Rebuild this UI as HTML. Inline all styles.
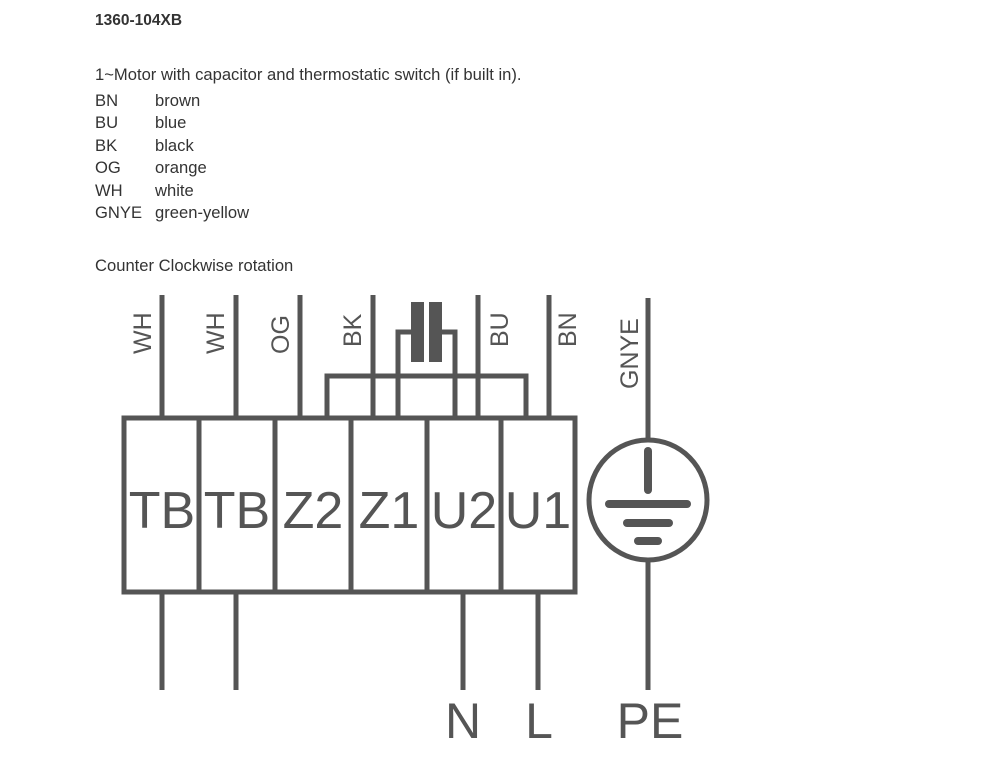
<!DOCTYPE html>
<html><head><meta charset="utf-8"><style>
html,body{margin:0;padding:0;background:#fff;}
body{width:1000px;height:757px;overflow:hidden;position:relative;font-family:"Liberation Sans",Arial,sans-serif;color:#333;}
.t{position:absolute;font-size:16.6px;line-height:16px;white-space:nowrap;}
</style></head><body>
<div class="t" style="left:95px;top:13px;font-weight:bold;font-size:15.5px;">1360-104XB</div>
<div class="t" style="left:95px;top:67px;">1~Motor with capacitor and thermostatic switch (if built in).</div>
<div class="t" style="left:95px;top:93px;">BN</div><div class="t" style="left:155px;top:93px;">brown</div>
<div class="t" style="left:95px;top:115px;">BU</div><div class="t" style="left:155px;top:115px;">blue</div>
<div class="t" style="left:95px;top:138px;">BK</div><div class="t" style="left:155px;top:138px;">black</div>
<div class="t" style="left:95px;top:160px;">OG</div><div class="t" style="left:155px;top:160px;">orange</div>
<div class="t" style="left:95px;top:183px;">WH</div><div class="t" style="left:155px;top:183px;">white</div>
<div class="t" style="left:95px;top:205px;">GNYE</div><div class="t" style="left:155px;top:205px;">green-yellow</div>
<div class="t" style="left:95px;top:258px;">Counter Clockwise rotation</div>
<svg width="1000" height="757" style="position:absolute;left:0;top:0" xmlns="http://www.w3.org/2000/svg">
<g stroke="#555" stroke-width="5" fill="none">
<rect x="124" y="418" width="451" height="174"/>
<line x1="199" y1="418" x2="199" y2="592"/>
<line x1="275" y1="418" x2="275" y2="592"/>
<line x1="351" y1="418" x2="351" y2="592"/>
<line x1="427" y1="418" x2="427" y2="592"/>
<line x1="501" y1="418" x2="501" y2="592"/>
<line x1="162" y1="295" x2="162" y2="418"/>
<line x1="236" y1="295" x2="236" y2="418"/>
<line x1="300" y1="295" x2="300" y2="418"/>
<line x1="373" y1="295" x2="373" y2="418"/>
<line x1="478" y1="295" x2="478" y2="418"/>
<line x1="549" y1="295" x2="549" y2="418"/>
<polyline points="327,418 327,376 526,376 526,418"/>
<polyline points="398,418 398,332 415,332"/>
<polyline points="455,418 455,332 438,332"/>
<line x1="162" y1="592" x2="162" y2="690"/>
<line x1="236" y1="592" x2="236" y2="690"/>
<line x1="463" y1="592" x2="463" y2="690"/>
<line x1="538" y1="592" x2="538" y2="690"/>
<line x1="648" y1="298" x2="648" y2="440"/>
<line x1="648" y1="560" x2="648" y2="690"/>
<ellipse cx="648" cy="500" rx="59" ry="60"/>
</g>
<g fill="#555">
<rect x="411" y="302" width="13" height="60"/>
<rect x="429" y="302" width="13" height="60"/>
</g>
<g stroke="#555" stroke-linecap="round">
<line x1="648" y1="451" x2="648" y2="490" stroke-width="8"/>
<line x1="609" y1="504" x2="687" y2="504" stroke-width="8"/>
<line x1="627" y1="523" x2="669" y2="523" stroke-width="8"/>
<line x1="638" y1="541" x2="658" y2="541" stroke-width="8"/>
</g>
<g fill="#555" font-family="Liberation Sans, Arial, sans-serif" font-size="25">
<text transform="translate(151,354) rotate(-90)">WH</text>
<text transform="translate(224,354) rotate(-90)">WH</text>
<text transform="translate(289,354) rotate(-90)">OG</text>
<text transform="translate(361,347) rotate(-90)">BK</text>
<text transform="translate(508,347) rotate(-90)">BU</text>
<text transform="translate(576,347) rotate(-90)">BN</text>
<text transform="translate(638,389) rotate(-90)">GNYE</text>
</g>
<g fill="#555" font-family="Liberation Sans, Arial, sans-serif" font-size="52" text-anchor="middle">
<text x="162" y="528">TB</text>
<text x="237" y="528">TB</text>
<text x="313" y="528">Z2</text>
<text x="389" y="528">Z1</text>
<text x="464" y="528">U2</text>
<text x="538" y="528">U1</text>
<text x="463" y="738" font-size="50">N</text>
<text x="539" y="738" font-size="50">L</text>
<text x="650" y="738" font-size="50">PE</text>
</g>
</svg>
</body></html>
